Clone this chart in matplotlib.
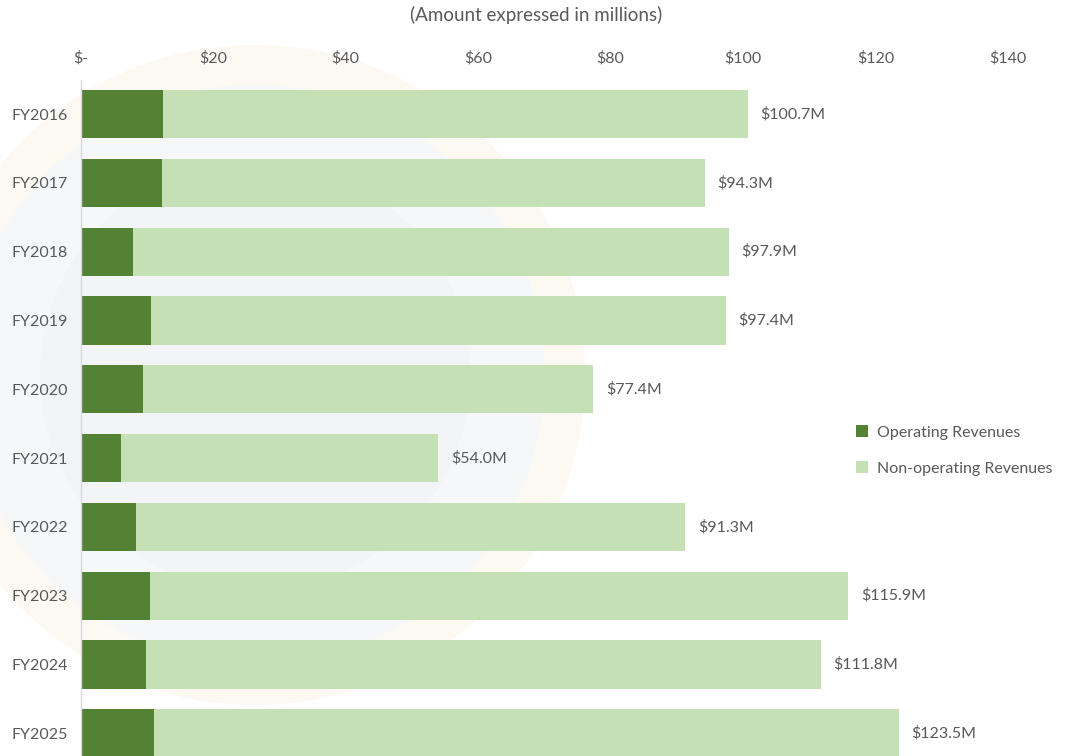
import matplotlib
matplotlib.use("Agg")
import matplotlib.pyplot as plt
from matplotlib.patches import Circle
from matplotlib.ticker import FuncFormatter
import numpy as np

# Revenue by fiscal year, in millions of dollars
years = ["FY2016", "FY2017", "FY2018", "FY2019", "FY2020",
         "FY2021", "FY2022", "FY2023", "FY2024", "FY2025"]
operating = [12.4, 12.3, 7.9, 10.7, 9.5, 6.1, 8.4, 10.5, 9.9, 11.1]
total = [100.7, 94.3, 97.9, 97.4, 77.4, 54.0, 91.3, 115.9, 111.8, 123.5]
non_operating = [t - o for t, o in zip(total, operating)]

x_ticks = [0, 20, 40, 60, 80, 100, 120, 140]

DARK = "#548235"
LIGHT = "#c5e0b4"
TEXT = "#595959"
FONT = ["Lato", "DejaVu Sans"]

plt.rcParams["font.family"] = FONT

W, H = 1069, 756
fig = plt.figure(figsize=(W / 100, H / 100), dpi=100)
fig.patch.set_facecolor("white")

# faint seal in the background
bg = fig.add_axes([0, 0, 1, 1], zorder=0)
bg.set_xlim(0, W)
bg.set_ylim(H, 0)
bg.axis("off")
bg.add_patch(Circle((255, 375), 330, facecolor="#fcf9f3", edgecolor="none"))
bg.add_patch(Circle((255, 375), 290, facecolor="#f6f7f9", edgecolor="none"))
bg.add_patch(Circle((255, 375), 215, facecolor="#f3f4f7", edgecolor="none"))

left_px, right_px = 80.5, 1008
top_px = 79.6
ax = fig.add_axes([left_px / W, 0, (right_px - left_px) / W, 1 - top_px / H], zorder=1)
ax.patch.set_alpha(0)

y = np.arange(len(years))
ax.barh(y, operating, height=0.70, color=DARK, label="Operating Revenues")
ax.barh(y, non_operating, left=operating, height=0.70, color=LIGHT,
        label="Non-operating Revenues")

for yi, t in zip(y, total):
    ax.annotate(f"${t:.1f}M", xy=(t, yi), xytext=(9, 0),
                textcoords="offset points", ha="left", va="center",
                fontsize=11.5, color=TEXT)

ax.set_xlim(0, 140)
ax.set_ylim(9.33, -0.5)
ax.set_xticks(x_ticks)
ax.xaxis.set_major_formatter(FuncFormatter(lambda v, p: "$-" if v == 0 else f"${v:.0f}"))
ax.xaxis.tick_top()
ax.set_yticks(y)
ax.set_yticklabels(years)
ax.tick_params(axis="both", length=0, labelsize=11.5, labelcolor=TEXT)
ax.tick_params(axis="x", pad=10)
ax.tick_params(axis="y", pad=9)
for s in ["top", "right", "bottom"]:
    ax.spines[s].set_visible(False)
ax.spines["left"].set_color("#d9d9d9")
ax.spines["left"].set_linewidth(1.0)

fig.text(536 / W, 1 - 15 / H, "(Amount expressed in millions)", ha="center",
         va="center", fontsize=13.5, color=TEXT)

leg = fig.legend(loc="upper left", bbox_to_anchor=(842 / W, 1 - 411 / H),
                 frameon=False, fontsize=11.5, handlelength=0.75, handleheight=0.75,
                 handletextpad=0.55, labelspacing=1.35, labelcolor=TEXT)

fig.savefig("out.png", dpi=100, facecolor="white")
